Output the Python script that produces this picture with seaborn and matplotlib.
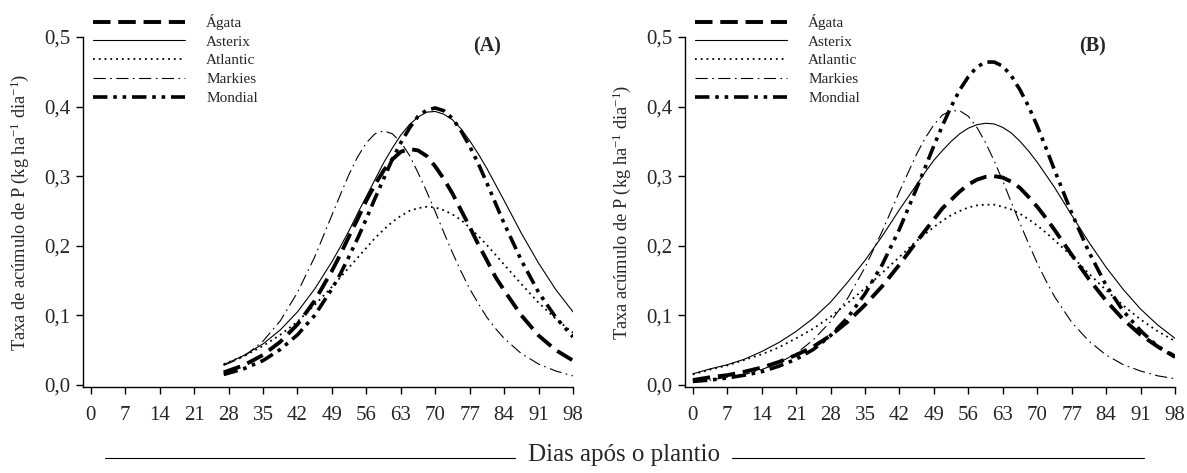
import matplotlib
matplotlib.use("Agg")
import matplotlib.pyplot as plt
import seaborn as sns
from matplotlib.lines import Line2D

# ---------------- data ----------------
days_a = [27, 31, 35, 38.5, 42, 45.5, 49, 50.75, 52.5, 54.25, 56, 57.75, 59.5, 61.25, 63,
          64.75, 66.5, 68.25, 70, 71.75, 73.5, 75.25, 77, 78.75, 80.5, 82.25, 84, 87.5,
          91, 94.5, 98]
agata_a = [0.018, 0.028, 0.043, 0.062, 0.087, 0.121, 0.164, 0.188, 0.214, 0.239, 0.265,
           0.288, 0.308, 0.324, 0.335, 0.339, 0.337, 0.329, 0.314, 0.296, 0.275, 0.251,
           0.227, 0.202, 0.179, 0.155, 0.136, 0.100, 0.071, 0.050, 0.035]
asterix_a = [0.029, 0.042, 0.059, 0.079, 0.105, 0.138, 0.177, 0.199, 0.222, 0.247, 0.271,
             0.295, 0.319, 0.340, 0.359, 0.374, 0.385, 0.392, 0.393, 0.389, 0.381, 0.368,
             0.351, 0.332, 0.311, 0.288, 0.265, 0.218, 0.175, 0.137, 0.105]
atlantic_a = [0.030, 0.041, 0.056, 0.072, 0.091, 0.115, 0.141, 0.155, 0.169, 0.183, 0.197,
              0.211, 0.223, 0.234, 0.243, 0.250, 0.254, 0.256, 0.255, 0.251, 0.245, 0.237,
              0.226, 0.214, 0.201, 0.187, 0.173, 0.145, 0.118, 0.095, 0.075]
markies_a = [0.028, 0.040, 0.063, 0.092, 0.133, 0.184, 0.244, 0.274, 0.303, 0.328, 0.348,
             0.361, 0.365, 0.361, 0.349, 0.330, 0.305, 0.278, 0.249, 0.219, 0.190, 0.163,
             0.138, 0.117, 0.097, 0.081, 0.067, 0.045, 0.030, 0.020, 0.013]
mondial_a = [0.015, 0.023, 0.035, 0.051, 0.072, 0.100, 0.138, 0.160, 0.185, 0.211, 0.239,
             0.268, 0.296, 0.324, 0.348, 0.369, 0.386, 0.395, 0.398, 0.394, 0.383, 0.365,
             0.343, 0.318, 0.290, 0.261, 0.232, 0.179, 0.133, 0.097, 0.069]

days_b = [0, 3.5, 7, 10.5, 14, 17.5, 21, 24.5, 28, 31.5, 35, 38.5, 42, 45.5,
          47.25, 49, 50.75, 52.5, 54.25, 56, 57.75, 59.5, 61.25, 63, 64.75, 66.5, 68.25,
          70, 71.75, 73.5, 77, 80.5, 84, 87.5, 91, 94.5, 98]
agata_b = [0.007, 0.011, 0.014, 0.019, 0.025, 0.033, 0.043, 0.055, 0.071, 0.091, 0.115,
           0.142, 0.173, 0.206, 0.222, 0.238, 0.254, 0.266, 0.278, 0.288, 0.295, 0.299,
           0.300, 0.298, 0.292, 0.283, 0.270, 0.256, 0.240, 0.223, 0.187, 0.152, 0.121,
           0.094, 0.072, 0.055, 0.041]
asterix_b = [0.016, 0.023, 0.029, 0.037, 0.048, 0.061, 0.077, 0.096, 0.119, 0.148, 0.179,
             0.214, 0.252, 0.288, 0.306, 0.323, 0.337, 0.350, 0.361, 0.369, 0.374, 0.376,
             0.375, 0.370, 0.362, 0.350, 0.336, 0.320, 0.302, 0.284, 0.244, 0.205, 0.169,
             0.137, 0.109, 0.086, 0.067]
atlantic_b = [0.015, 0.022, 0.028, 0.036, 0.044, 0.054, 0.067, 0.081, 0.098, 0.118, 0.139,
              0.161, 0.184, 0.207, 0.217, 0.227, 0.236, 0.244, 0.250, 0.255, 0.258, 0.259,
              0.259, 0.256, 0.252, 0.246, 0.238, 0.229, 0.219, 0.208, 0.185, 0.160, 0.136,
              0.114, 0.094, 0.077, 0.063]
markies_b = [0.005, 0.007, 0.011, 0.015, 0.022, 0.032, 0.045, 0.065, 0.091, 0.125, 0.169,
             0.221, 0.278, 0.332, 0.355, 0.374, 0.388, 0.394, 0.394, 0.386, 0.370, 0.348,
             0.322, 0.293, 0.262, 0.232, 0.203, 0.175, 0.150, 0.127, 0.090, 0.063, 0.043,
             0.029, 0.020, 0.013, 0.009]
mondial_b = [0.005, 0.007, 0.010, 0.014, 0.019, 0.027, 0.037, 0.051, 0.071, 0.097, 0.131,
             0.173, 0.224, 0.283, 0.313, 0.344, 0.373, 0.400, 0.424, 0.443, 0.457, 0.464,
             0.464, 0.458, 0.444, 0.424, 0.400, 0.372, 0.341, 0.309, 0.247, 0.191, 0.143,
             0.106, 0.078, 0.055, 0.040]

cultivars = ["Ágata", "Asterix", "Atlantic", "Markies", "Mondial"]
x_ticks = [0, 7, 14, 21, 28, 35, 42, 49, 56, 63, 70, 77, 84, 91, 98]
y_ticks = [0.0, 0.1, 0.2, 0.3, 0.4, 0.5]
y_ticklabels = ["0,0", "0,1", "0,2", "0,3", "0,4", "0,5"]

# ---------------- style ----------------
sns.set_style("ticks")
plt.rcParams["font.family"] = ["Liberation Serif", "DejaVu Serif"]
plt.rcParams["mathtext.fontset"] = "custom"
plt.rcParams["mathtext.rm"] = "Liberation Serif"
plt.rcParams["mathtext.it"] = "Liberation Serif:italic"

styles = {
    "Ágata": dict(lw=2.8, dashes=(4.5, 2.0)),
    "Asterix": dict(lw=0.8, dashes=None),
    "Atlantic": dict(lw=1.3, dashes=(1.0, 2.2)),
    "Markies": dict(lw=0.8, dashes=(11, 4, 1.5, 4)),
    "Mondial": dict(lw=2.6, dashes=(4.0, 1.6, 1.0, 1.6, 1.0, 1.6)),
}

fig = plt.figure(figsize=(11.87, 4.73), dpi=100)
W, H = 1187, 473
ax_a = fig.add_axes([83 / W, 1 - 387 / H, 490 / W, 350 / H])
ax_b = fig.add_axes([685 / W, 1 - 387 / H, 490 / W, 350 / H])

panels = [
    (ax_a, days_a, [agata_a, asterix_a, atlantic_a, markies_a, mondial_a], "(A)",
     "Taxa de acúmulo de P (kg ha$^{-1}$ dia$^{-1}$)", 93, 487),
    (ax_b, days_b, [agata_b, asterix_b, atlantic_b, markies_b, mondial_b], "(B)",
     "Taxa acúmulo de P (kg ha$^{-1}$ dia$^{-1}$)", 695, 1093),
]

for ax, days, series, tag, ylabel, leg_x, tag_x in panels:
    handles = []
    for name, vals in zip(cultivars, series):
        st = styles[name]
        sns.lineplot(x=days, y=vals, ax=ax, color="black", linewidth=st["lw"])
        line = ax.lines[-1]
        if st["dashes"] is not None:
            line.set_dashes(st["dashes"])
        line.set_dash_capstyle("butt")
        line.set_solid_joinstyle("round")
        handles.append(line)
    ax.set_xlim(-1.6, 98)
    ax.set_ylim(-0.003, 0.5)
    ax.set_xticks(x_ticks)
    ax.set_xticklabels([str(t) for t in x_ticks])
    ax.set_yticks(y_ticks)
    ax.set_yticklabels(y_ticklabels)
    ax.tick_params(axis="both", labelsize=15, direction="out", length=5, width=1, color="black")
    ax.tick_params(axis="x", pad=9)
    ax.tick_params(axis="y", pad=4)
    for s in ["top", "right"]:
        ax.spines[s].set_visible(False)
    for s in ["left", "bottom"]:
        ax.spines[s].set_color("black")
        ax.spines[s].set_linewidth(1.0)
    ax.set_xlabel("")
    ax.set_ylabel(ylabel, fontsize=13.2)
    ax.yaxis.set_label_coords(-0.106, 0.5)
    ax.legend(handles, cultivars, loc="upper left",
              bbox_to_anchor=(leg_x / W, 1 - 14 / H), bbox_transform=fig.transFigure,
              frameon=False, fontsize=11, handlelength=6.0, handletextpad=1.4,
              labelspacing=0.33, borderpad=0, borderaxespad=0)
    fig.text(tag_x / W, 1 - 46 / H, tag, fontsize=14.5, fontweight="bold",
             ha="center", va="center")

# bottom common x label with rules on both sides
fig.text(624 / W, 1 - 455 / H, "Dias após o plantio", fontsize=18, ha="center", va="center")
fig.add_artist(Line2D([105 / W, 515 / W], [1 - 458 / H, 1 - 458 / H], color="black", lw=0.8))
fig.add_artist(Line2D([732 / W, 1144 / W], [1 - 458 / H, 1 - 458 / H], color="black", lw=0.8))

fig.savefig("out.png", dpi=100)
